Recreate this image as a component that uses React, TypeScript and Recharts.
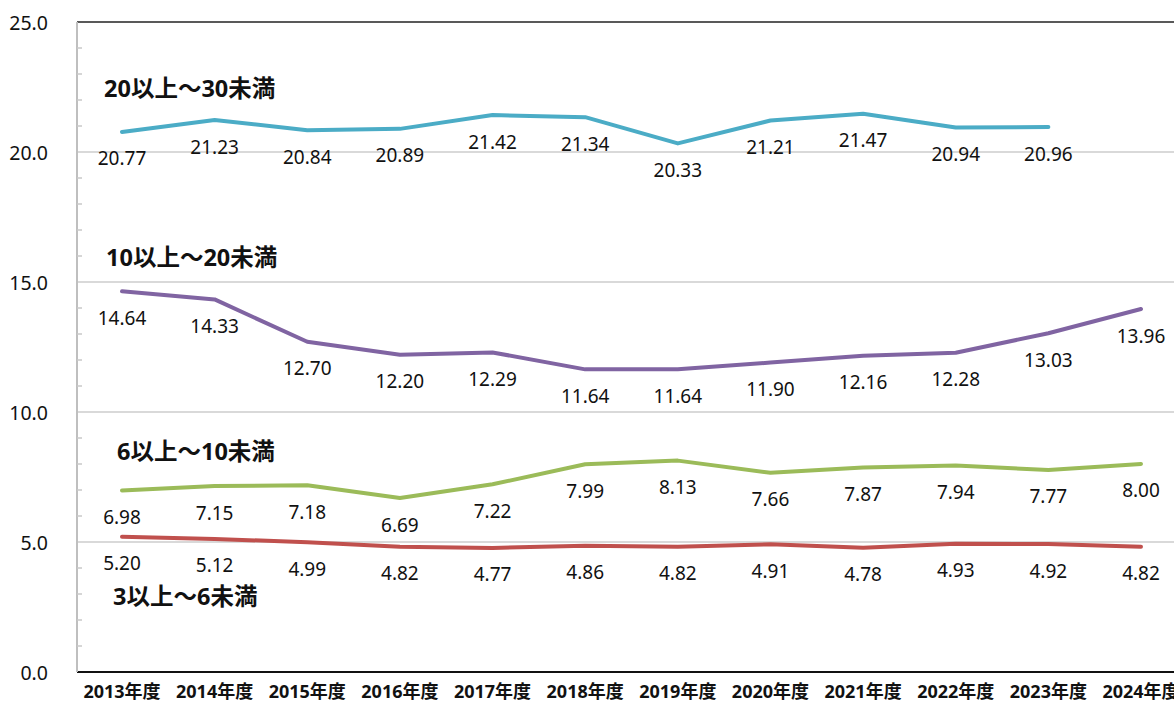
import React from 'react';
import { LineChart, Line, XAxis, YAxis, CartesianGrid, LabelList, ReferenceLine } from 'recharts';

const categories = ['2013年度', '2014年度', '2015年度', '2016年度', '2017年度', '2018年度', '2019年度', '2020年度', '2021年度', '2022年度', '2023年度', '2024年度'];
const s20to30: (number | null)[] = [20.77, 21.23, 20.84, 20.89, 21.42, 21.34, 20.33, 21.21, 21.47, 20.94, 20.96, null];
const s10to20 = [14.64, 14.33, 12.7, 12.2, 12.29, 11.64, 11.64, 11.9, 12.16, 12.28, 13.03, 13.96];
const s6to10 = [6.98, 7.15, 7.18, 6.69, 7.22, 7.99, 8.13, 7.66, 7.87, 7.94, 7.77, 8.0];
const s3to6 = [5.2, 5.12, 4.99, 4.82, 4.77, 4.86, 4.82, 4.91, 4.78, 4.93, 4.92, 4.82];
const seriesNames = ['20以上～30未満', '10以上～20未満', '6以上～10未満', '3以上～6未満'];
const yTicks = Array.from({ length: 26 }, (_, i) => i);
const gridValues = [5, 10, 15, 20];
const yMax = 25;

const data = categories.map((c, i) => ({
  cat: c,
  a: s20to30[i],
  b: s10to20[i],
  c: s6to10[i],
  d: s3to6[i],
}));

const NUM_FONT = "'Noto Sans', 'Noto Sans CJK JP', sans-serif";
const CJK_FONT = "'Noto Sans', 'Noto Sans CJK JP', sans-serif";

const series = [
  { key: 'a', color: '#4BACC6', name: seriesNames[0], dx: -18, dy: -44 },
  { key: 'b', color: '#8064A2', name: seriesNames[1], dx: -16, dy: -34 },
  { key: 'c', color: '#9BBB59', name: seriesNames[2], dx: -5, dy: -40 },
  { key: 'd', color: '#C0504D', name: seriesNames[3], dx: -9, dy: 59 },
];

const YTick = (props: any) => {
  const { x, y, payload } = props;
  const v = payload.value as number;
  return (
    <g>
      {v > 0 && v < 25 && v % 5 !== 0 && (
        <line x1={x} x2={x + 5} y1={y} y2={y} stroke="#c8c8c8" strokeWidth={1.5} />
      )}
      {v % 5 === 0 && (
        <text x={x - 29} y={y} textAnchor="end" dominantBaseline="central" fontFamily={NUM_FONT} fontSize={19.5} fill="#111">
          {v.toFixed(1)}
        </text>
      )}
    </g>
  );
};

const makeNameLabel = (name: string, dx: number, dy: number) => (props: any) => {
  const { x, y, index } = props;
  if (index !== 0) return null;
  return (
    <text x={x + dx} y={y + dy} textAnchor="start" dominantBaseline="central" fontFamily={CJK_FONT} fontWeight="bold" fontSize={23.5} fill="#111">
      {name}
    </text>
  );
};

const gridGen = (props: any) => {
  const { yAxis, offset } = props;
  return gridValues.map((v) => {
    if (yAxis && typeof yAxis.scale === 'function') return yAxis.scale(v);
    if (yAxis && yAxis.scale && typeof yAxis.scale.map === 'function') return yAxis.scale.map(v);
    return offset.top + offset.height * (1 - v / yMax);
  });
};

export default function App() {
  return (
    <div style={{ position: 'absolute', left: 0, top: 0, width: 1174, height: 702, overflow: 'hidden', background: '#fff' }}>
      <LineChart width={1188} height={702} data={data} margin={{ top: 22, right: 0, bottom: 0, left: 0 }}>
        <CartesianGrid vertical={false} stroke="#d9d9d9" strokeWidth={2} horizontalCoordinatesGenerator={gridGen} />
        <ReferenceLine y={yMax} stroke="#222" strokeWidth={1.5} />
        <XAxis
          dataKey="cat"
          height={30}
          interval={0}
          padding={{ left: 45, right: 47 }}
          tickLine={false}
          tickSize={6}
          tickMargin={7}
          axisLine={{ stroke: '#111', strokeWidth: 2 }}
          tick={{ fontFamily: CJK_FONT, fontWeight: 'bold', fontSize: 18, fill: '#111' }}
        />
        <YAxis
          width={77}
          domain={[0, yMax]}
          ticks={yTicks}
          interval={0}
          tickLine={false}
          tickSize={0}
          tickMargin={0}
          axisLine={{ stroke: '#bfbfbf', strokeWidth: 2 }}
          tick={<YTick />}
        />
        {series.map((s) => (
          <Line
            key={s.key}
            dataKey={s.key}
            stroke={s.color}
            strokeWidth={4}
            strokeLinecap="round"
            strokeLinejoin="round"
            dot={false}
            activeDot={false}
            isAnimationActive={false}
            connectNulls={false}
          >
            <LabelList
              dataKey={s.key}
              position="bottom"
              offset={20}
              formatter={(v: any) => (v == null ? '' : Number(v).toFixed(2))}
              style={{ fontFamily: NUM_FONT, fontSize: 19, fill: '#111' }}
            />
            <LabelList dataKey={s.key} content={makeNameLabel(s.name, s.dx, s.dy)} />
          </Line>
        ))}
      </LineChart>
    </div>
  );
}
